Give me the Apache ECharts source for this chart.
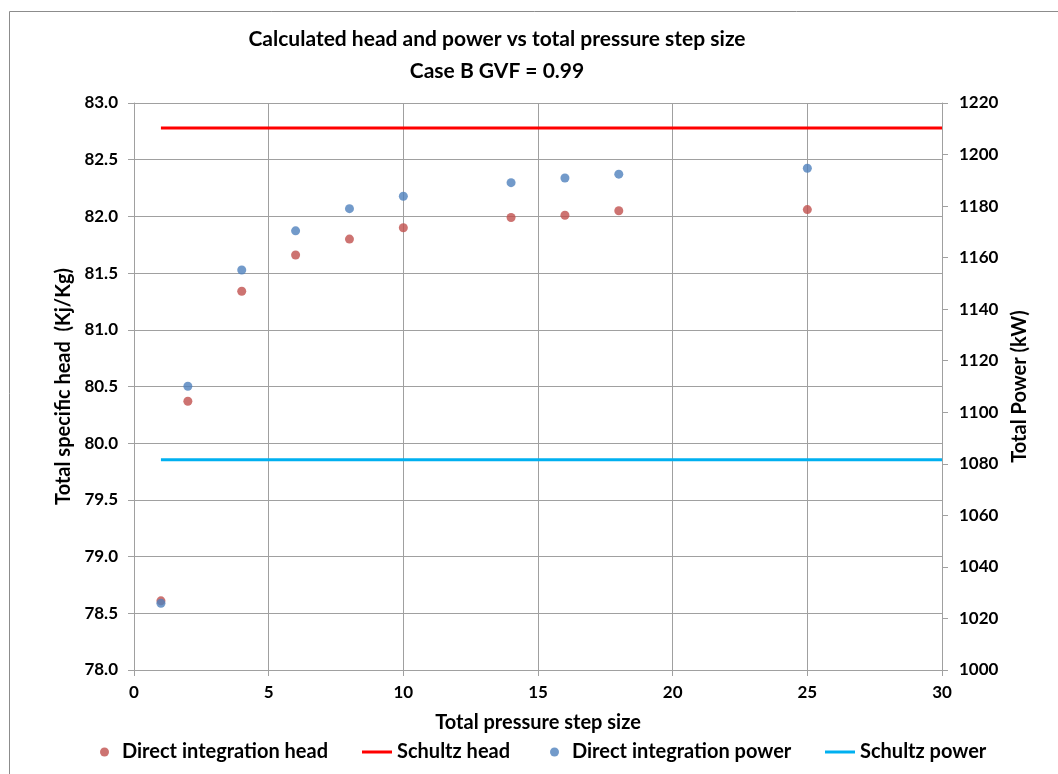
<!DOCTYPE html>
<html><head><meta charset="utf-8">
<script src="https://cdn.jsdelivr.net/npm/echarts@6/dist/echarts.min.js"></script>
<style>html,body{margin:0;padding:0;background:#fff}#c{width:1058px;height:774px}</style>
</head><body><div id="c"></div>
<script>
var stepSizes = [1, 2, 4, 6, 8, 10, 14, 16, 18, 25];
var headValues = [78.61, 80.37, 81.34, 81.66, 81.80, 81.90, 81.99, 82.01, 82.05, 82.06];
var powerValues = [1025.9, 1110.1, 1155.2, 1170.4, 1179.0, 1183.8, 1189.1, 1190.9, 1192.4, 1194.7];
var schultzHead = 82.78;
var schultzPower = 1081.6;
var schultzRange = [1, 30];
var seriesNames = ['Direct integration head', 'Schultz head', 'Direct integration power', 'Schultz power'];

var FONT = 'Lato';
var chart = echarts.init(document.getElementById('c'), null, {renderer: 'canvas'});
function pairs(xs, ys){ return xs.map(function(x,i){ return [x, ys[i]]; }); }
var axisLine = {show: true, lineStyle: {color: '#a0a0a0', width: 1}};
var tick = {show: true, inside: false, length: 6, lineStyle: {color: '#a0a0a0'}};
var lbl = {color: '#000', fontFamily: FONT, fontWeight: 'bold', fontSize: 17};
var nameStyle = {fontFamily: FONT, fontWeight: 'bold', fontSize: 20, color: '#000'};
function legendAt(name, left, icon){
  var dot = icon === 'circle';
  return {data: [{name: name, icon: icon}], left: left, top: 742, padding: 0, itemWidth: dot ? 9 : 30, itemHeight: dot ? 9 : 3,
    itemGap: 0, textStyle: {fontFamily: FONT, fontWeight: 'bold', fontSize: 20, color: '#000', padding: [0,0,0, dot ? 8 : 0]}};
}
chart.setOption({
  animation: false,
  graphic: [{type: 'rect', left: 7, top: 9, shape: {width: 1200, height: 900}, style: {fill: 'none', stroke: '#8c8c8c', lineWidth: 1}, silent: true}],
  title: {text: 'Calculated head and power vs total pressure step size\nCase B GVF = 0.99', left: 492, textAlign: 'center', top: 18,
    textStyle: {fontFamily: FONT, fontWeight: 'bold', fontSize: 21, color: '#000', lineHeight: 32}},
  legend: [
    legendAt(seriesNames[0], 100, 'circle'),
    legendAt(seriesNames[1], 362, 'rect'),
    legendAt(seriesNames[2], 550, 'circle'),
    legendAt(seriesNames[3], 825, 'rect')
  ],
  grid: {left: 134, right: 116, top: 103, bottom: 104, containLabel: false},
  xAxis: {type: 'value', min: 0, max: 30, interval: 5, name: 'Total pressure step size', nameLocation: 'middle', nameGap: 43,
    nameTextStyle: nameStyle,
    axisLine: axisLine, axisTick: tick, axisLabel: Object.assign({margin: 14}, lbl),
    splitLine: {show: true, lineStyle: {color: '#a0a0a0', width: 1}}},
  yAxis: [
    {type: 'value', min: 78, max: 83, interval: 0.5, position: 'left', name: 'Total specific head  (Kj/Kg)', nameLocation: 'middle', nameGap: 49,
      nameTextStyle: nameStyle,
      axisLine: axisLine, axisTick: tick, axisLabel: Object.assign({margin: 16, formatter: function(v){ return v.toFixed(1); }}, lbl),
      splitLine: {show: true, lineStyle: {color: '#a0a0a0', width: 1}}},
    {type: 'value', min: 1000, max: 1220, interval: 20, position: 'right', name: 'Total Power (kW)', nameLocation: 'middle', nameGap: 54,
      nameRotate: 90,
      nameTextStyle: nameStyle,
      axisLine: axisLine, axisTick: tick, axisLabel: Object.assign({margin: 17, formatter: function(v){ return String(v); }}, lbl),
      splitLine: {show: false}}
  ],
  series: [
    {name: seriesNames[0], type: 'scatter', yAxisIndex: 0, symbol: 'circle', symbolSize: 9, itemStyle: {color: '#C0504D'}, data: pairs(stepSizes, headValues), z: 3},
    {name: seriesNames[1], type: 'line', yAxisIndex: 0, symbol: 'none', lineStyle: {color: '#FF0000', width: 3}, itemStyle: {color: '#FF0000'},
      data: schultzRange.map(function(x){ return [x, schultzHead]; }), z: 2},
    {name: seriesNames[2], type: 'scatter', yAxisIndex: 1, symbol: 'circle', symbolSize: 9, itemStyle: {color: '#4F81BD'}, data: pairs(stepSizes, powerValues), z: 4},
    {name: seriesNames[3], type: 'line', yAxisIndex: 1, symbol: 'none', lineStyle: {color: '#00B0F0', width: 3}, itemStyle: {color: '#00B0F0'},
      data: schultzRange.map(function(x){ return [x, schultzPower]; }), z: 2}
  ]
});
</script></body></html>
